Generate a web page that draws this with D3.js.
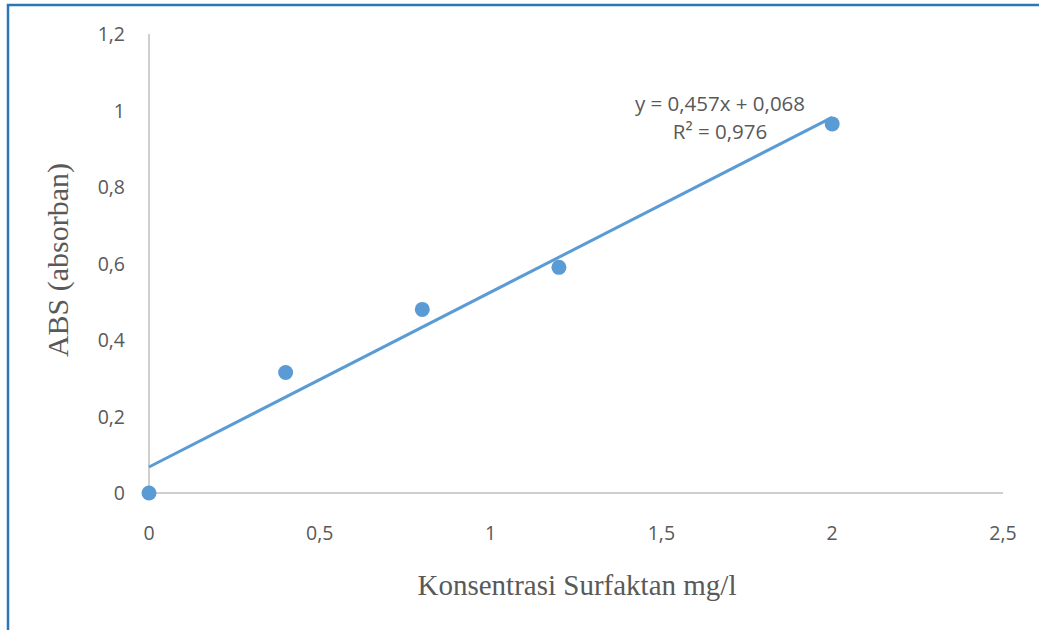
<!DOCTYPE html>
<html>
<head>
<meta charset="utf-8">
<script src="https://cdn.jsdelivr.net/npm/d3@7"></script>
<style>
  body { margin: 0; background: #fff; }
  svg { display: block; }
</style>
</head>
<body>
<svg width="1039" height="630"></svg>
<script>
// data
var konsentrasi = [0, 0.4, 0.8, 1.2, 2];
var absorban = [0, 0.315, 0.48, 0.59, 0.965];
var xTicks = [0, 0.5, 1, 1.5, 2, 2.5];
var yTicks = [0, 0.2, 0.4, 0.6, 0.8, 1, 1.2];
var slope = 0.457, intercept = 0.068;
var trendRange = [0, 2];

var fmt = function(v){ return String(v).replace('.', ','); };

var svg = d3.select('svg');

// frame
svg.append('path')
   .attr('d', 'M8,630 V5 H1039')
   .attr('fill', 'none')
   .attr('stroke', '#2e75b6')
   .attr('stroke-width', 2.5);

var x = d3.scaleLinear().domain([0, 2.5]).range([149, 1003]);
var y = d3.scaleLinear().domain([0, 1.2]).range([493, 34]);

// axes lines
svg.append('line')
   .attr('x1', x(0)).attr('x2', x(0))
   .attr('y1', y(1.2)).attr('y2', y(0))
   .attr('stroke', '#bfbfbf').attr('stroke-width', 1.5);
svg.append('line')
   .attr('x1', x(0)).attr('x2', x(2.5))
   .attr('y1', y(0)).attr('y2', y(0))
   .attr('stroke', '#bfbfbf').attr('stroke-width', 1.5);

// tick labels
svg.selectAll('.ytick')
   .data(yTicks)
   .enter().append('text')
     .attr('x', 125)
     .attr('y', function(d){ return y(d) + 7; })
     .attr('text-anchor', 'end')
     .attr('font-family', 'Open Sans, sans-serif')
     .attr('font-size', 19.5)
     .attr('fill', '#595959')
     .text(fmt);

svg.selectAll('.xtick')
   .data(xTicks)
   .enter().append('text')
     .attr('x', function(d){ return x(d); })
     .attr('y', 540)
     .attr('text-anchor', 'middle')
     .attr('font-family', 'Open Sans, sans-serif')
     .attr('font-size', 19.5)
     .attr('fill', '#595959')
     .text(fmt);

// trendline
svg.append('line')
   .attr('x1', x(trendRange[0])).attr('y1', y(slope*trendRange[0] + intercept))
   .attr('x2', x(trendRange[1])).attr('y2', y(slope*trendRange[1] + intercept))
   .attr('stroke', '#5b9bd5').attr('stroke-width', 3);

// points
svg.selectAll('circle')
   .data(konsentrasi)
   .enter().append('circle')
     .attr('cx', function(d){ return x(d); })
     .attr('cy', function(d, i){ return y(absorban[i]); })
     .attr('r', 7.5)
     .attr('fill', '#5b9bd5');

// equation
svg.append('text')
   .attr('x', 720).attr('y', 111)
   .attr('text-anchor', 'middle')
   .attr('font-family', 'Open Sans, sans-serif')
   .attr('font-size', 20.5)
   .attr('fill', '#595959')
   .text('y = 0,457x + 0,068');
svg.append('text')
   .attr('x', 720).attr('y', 139)
   .attr('text-anchor', 'middle')
   .attr('font-family', 'Open Sans, sans-serif')
   .attr('font-size', 20.5)
   .attr('fill', '#595959')
   .text('R² = 0,976');

// axis titles
svg.append('text')
   .attr('transform', 'translate(68,260) rotate(-90)')
   .attr('text-anchor', 'middle')
   .attr('font-family', 'Liberation Serif, serif')
   .attr('font-size', 30)
   .attr('fill', '#595959')
   .text('ABS (absorban)');
svg.append('text')
   .attr('x', 577).attr('y', 595)
   .attr('text-anchor', 'middle')
   .attr('font-family', 'Liberation Serif, serif')
   .attr('font-size', 29)
   .attr('fill', '#595959')
   .text('Konsentrasi Surfaktan mg/l');
</script>
</body>
</html>
